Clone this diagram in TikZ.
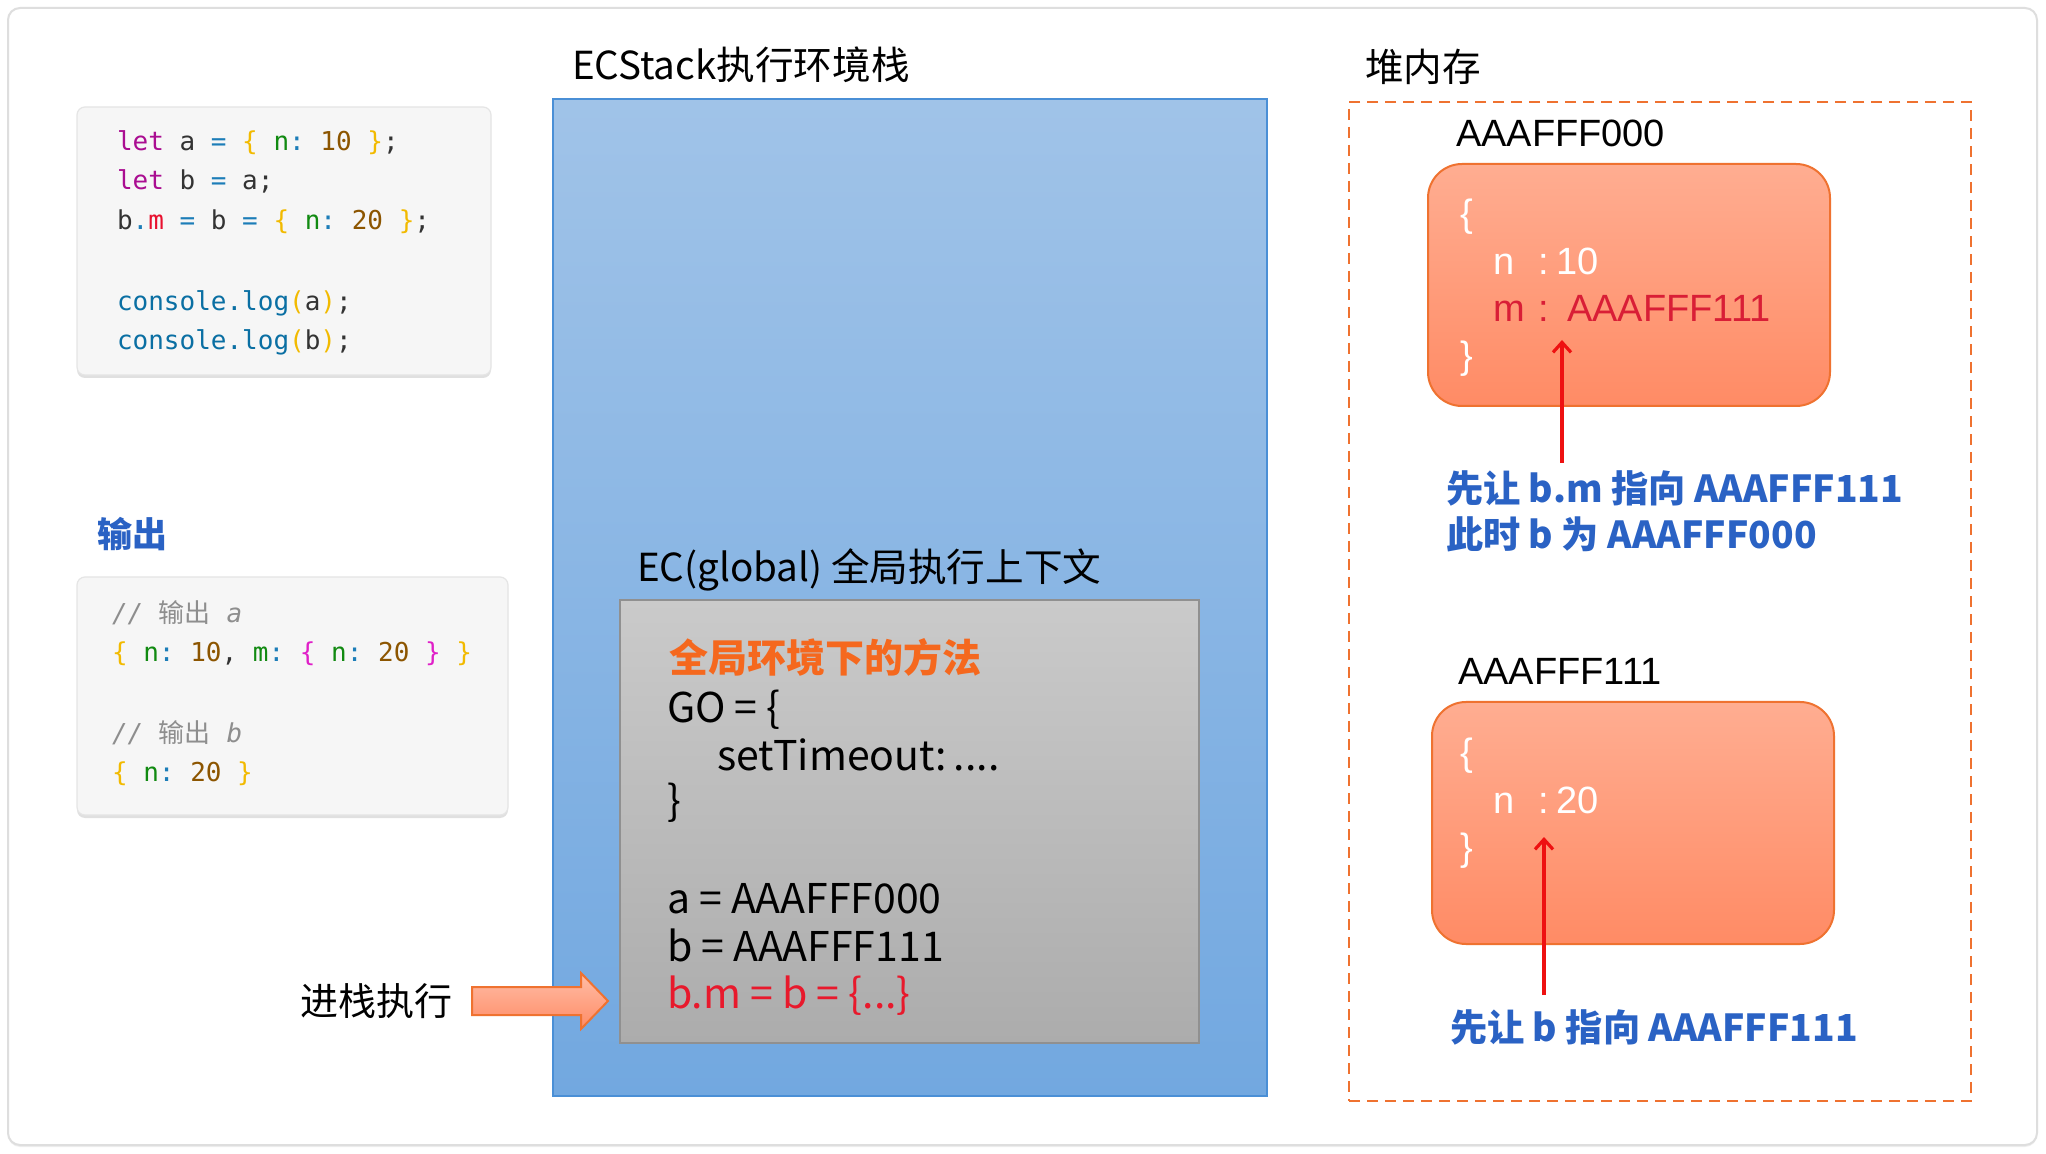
\documentclass[tikz,border=0pt]{standalone}
\usepackage{fontspec}
\setmainfont{Noto Sans CJK SC}
\setmonofont{DejaVu Sans Mono}
\newfontfamily\helv{Liberation Sans}
\usetikzlibrary{shadows,fit,arrows.meta}

\definecolor{codebg}{HTML}{F6F6F6}
\definecolor{codefg}{HTML}{333333}
\definecolor{jskw}{HTML}{AA0D91}
\definecolor{jsop}{HTML}{1C7DB8}
\definecolor{jsfn}{HTML}{0A6FA3}
\definecolor{jsbr}{HTML}{F2BA00}
\definecolor{jskey}{HTML}{118A11}
\definecolor{jsnum}{HTML}{8C5500}
\definecolor{jsred}{HTML}{E8102E}
\definecolor{jsmag}{HTML}{E01FC8}
\definecolor{jscmt}{HTML}{8E8E8E}
\definecolor{stacktop}{HTML}{A0C3E8}
\definecolor{stackbot}{HTML}{72A8E0}
\definecolor{stackline}{HTML}{4A8FD6}
\definecolor{ectop}{HTML}{CACACA}
\definecolor{ecbot}{HTML}{ACACAC}
\definecolor{ecline}{HTML}{909090}
\definecolor{heaptop}{HTML}{FFAD91}
\definecolor{heapbot}{HTML}{FF8B65}
\definecolor{heapline}{HTML}{EF7230}
\definecolor{heapred}{HTML}{D91E36}
\definecolor{methodorange}{HTML}{F5681E}
\definecolor{redtext}{HTML}{E8192C}
\definecolor{noteblue}{HTML}{2A62C4}
\definecolor{arrowred}{HTML}{EE1111}

\newcommand{\tok}[2]{\textcolor{#1}{#2}}

\begin{document}
\begin{tikzpicture}[x=0.5pt, y=-0.5pt,
  every node/.style={inner sep=0pt, outer sep=0pt},
  frame/.style={draw=black!13, line width=1pt, rounded corners=6pt,
    drop shadow={shadow xshift=0pt, shadow yshift=-1pt, opacity=0.15, fill=black!40}},
  codebox/.style={fill=codebg, draw=black!10, line width=0.6pt, rounded corners=4pt,
    drop shadow={shadow xshift=0pt, shadow yshift=-1.5pt, opacity=0.3, fill=black!40}},
  code/.style={anchor=base west, font=\fontsize{13}{16}\selectfont\ttfamily, text=codefg},
  title/.style={anchor=base west, font=\fontsize{19.3}{23}\selectfont},
  stackbox/.style={draw=stackline, line width=1pt, top color=stacktop, bottom color=stackbot},
  ecbox/.style={draw=ecline, line width=1pt, top color=ectop, bottom color=ecbot},
  ectext/.style={anchor=base west, font=\fontsize{20.5}{25}\selectfont},
  heapframe/.style={draw=heapline, line width=1.3pt, dash pattern=on 5.5pt off 3.5pt},
  heapbox/.style={draw=heapline, line width=1pt, rounded corners=17pt, top color=heaptop, bottom color=heapbot},
  heaptext/.style={anchor=base west, font=\fontsize{19}{23}\selectfont\helv, text=white},
  note/.style={anchor=base west, font=\fontsize{18.6}{22}\selectfont\bfseries, text=noteblue},
  pointer/.style={-{Straight Barb[length=5pt, width=9pt]}, draw=arrowred, line width=1.6pt},
  pusharrow/.style={draw=heapline, line width=1pt, top color=heaptop!80, bottom color=heapbot}
]

  \useasboundingbox (0,0) rectangle (2046,1154);
  \fill[white] (0,0) rectangle (2046,1154);
  \node[frame, fill=white, fit={(8,8) (2037,1145)}] (page) {};

  \node[codebox, fit={(77,107) (491,375)}] (source) {};
  \node[code] (src1) at (117,151) {\tok{jskw}{let} a \tok{jsop}{=} \tok{jsbr}{\{} \tok{jskey}{n}\tok{jsop}{:} \tok{jsnum}{10} \tok{jsbr}{\}};};
  \node[code] (src2) at (117,190) {\tok{jskw}{let} b \tok{jsop}{=} a;};
  \node[code] (src3) at (117,230) {b\tok{jsop}{.}\tok{jsred}{m} \tok{jsop}{=} b \tok{jsop}{=} \tok{jsbr}{\{} \tok{jskey}{n}\tok{jsop}{:} \tok{jsnum}{20} \tok{jsbr}{\}};};
  \node[code] (src4) at (117,311) {\tok{jsfn}{console.log}\tok{jsbr}{(}a\tok{jsbr}{)};};
  \node[code] (src5) at (117,350) {\tok{jsfn}{console.log}\tok{jsbr}{(}b\tok{jsbr}{)};};

  \node[anchor=base west, font=\fontsize{17.5}{21}\selectfont\bfseries, text=noteblue] (outtitle) at (97,548) {输出};
  \node[codebox, fit={(77,577) (508,815)}] (output) {};
  \node[code] (out1) at (112,623) {\tok{jscmt}{\itshape // {\rmfamily 输出} a}};
  \node[code] (out2) at (112,662) {\tok{jsbr}{\{} \tok{jskey}{n}\tok{jsop}{:} \tok{jsnum}{10}, \tok{jskey}{m}\tok{jsop}{:} \tok{jsmag}{\{} \tok{jskey}{n}\tok{jsop}{:} \tok{jsnum}{20} \tok{jsmag}{\}} \tok{jsbr}{\}}};
  \node[code] (out3) at (112,742) {\tok{jscmt}{\itshape // {\rmfamily 输出} b}};
  \node[code] (out4) at (112,781) {\tok{jsbr}{\{} \tok{jskey}{n}\tok{jsop}{:} \tok{jsnum}{20} \tok{jsbr}{\}}};

  \node[title] (stacktitle) at (572,80) {ECStack执行环境栈};
  \node[stackbox, fit={(553,99) (1267,1096)}] (ecstack) {};
  \node[title] (ectitle) at (637,582) {EC(global) 全局执行上下文};
  \node[ecbox, fit={(620,600) (1199,1043)}] (ecglobal) {};
  \node[ectext, font=\fontsize{19.5}{24}\selectfont\bfseries, text=methodorange] (method) at (669,673) {全局环境下的方法};
  \node[ectext] (go1) at (667,723) {GO = \{};
  \node[ectext] (go2) at (717,770) {setTimeout:\,....};
  \node[ectext] (go3) at (667,815) {\}};
  \node[ectext] (vara) at (667,913) {a = AAAFFF000};
  \node[ectext] (varb) at (667,961) {b = AAAFFF111};
  \node[ectext, text=redtext] (assign) at (667,1008) {b.m = b = \{...\}};

  \node[title, font=\fontsize{19}{23}\selectfont] (push) at (300,1015) {进栈执行};
  \filldraw[pusharrow] (472,987) -- (581,987) -- (581,973) -- (608,1001) -- (581,1029) -- (581,1015) -- (472,1015) -- cycle;

  \node[title] (heaptitle) at (1365,82) {堆内存};
  \node[heapframe, fit={(1349,102) (1971,1101)}] (heap) {};

  \node[heaptext, text=black] (addr0) at (1456,147) {AAAFFF000};
  \node[heapbox, fit={(1428,164) (1830,406)}] (obj0) {};
  \node[heaptext] (obj0open) at (1460,227) {\{};
  \node[heaptext] (obj0n) at (1493,275) {n\hspace{12pt}:\hspace{4pt}10};
  \node[heaptext, text=heapred] (obj0m) at (1493,322) {m\hspace{7pt}:\hspace{9pt}AAAFFF111};
  \node[heaptext] (obj0close) at (1460,369) {\}};

  \node[heaptext, text=black] (addr1) at (1458,685) {AAAFFF111};
  \node[heapbox, fit={(1432,702) (1834,944)}] (obj1) {};
  \node[heaptext] (obj1open) at (1460,765) {\{};
  \node[heaptext] (obj1n) at (1493,813) {n\hspace{12pt}:\hspace{4pt}20};
  \node[heaptext] (obj1close) at (1460,860) {\}};

  \node[note] (note0a) at (1446,503) {先让 b.m 指向 AAAFFF111};
  \node[note] (note0b) at (1446,549) {此时 b 为 AAAFFF000};
  \node[note] (note1) at (1450,1041) {先让 b 指向 AAAFFF111};

  \coordinate (tip0) at (1562,340);
  \coordinate (tail0) at (1562,463);
  \coordinate (tip1) at (1544,837);
  \coordinate (tail1) at (1544,995);
  \draw[pointer] (tail0) -- (tip0);
  \draw[pointer] (tail1) -- (tip1);

\end{tikzpicture}
\end{document}
